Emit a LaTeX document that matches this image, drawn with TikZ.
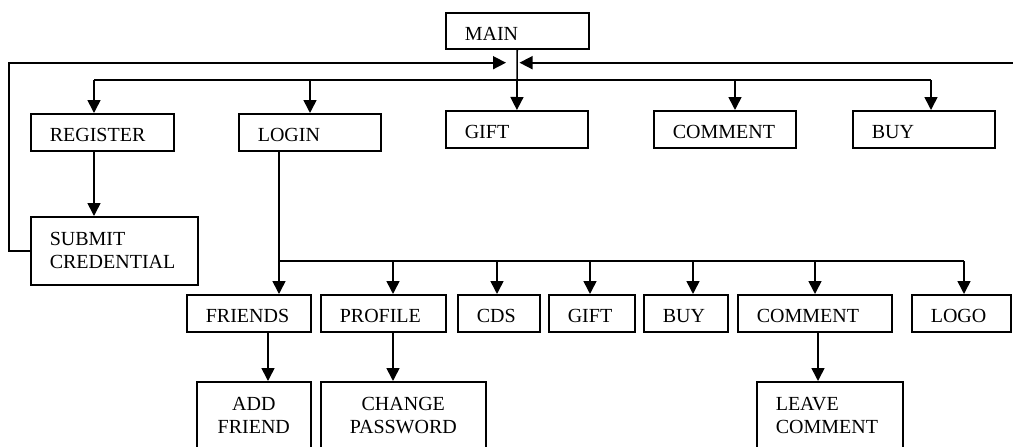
\documentclass[tikz,border=0pt]{standalone}
\usepackage{fontspec}
\setmainfont{Liberation Serif}
\usepackage{xcolor}
\definecolor{cLine}{HTML}{000000}
\usepackage{tikz}
\usetikzlibrary{positioning,arrows.meta,calc}
\tikzset{
  node-box/.style={draw=cLine,line width=1.6pt,anchor=north west,
    inner xsep=19pt,inner ysep=0pt,align=left,
    font={\fontsize{20}{23}\selectfont}},
  node-one/.style={node-box,minimum height=37pt,text height=19pt,text depth=0pt},
  node-two/.style={node-box,minimum height=68pt},
  arrow/.style={-{Triangle[length=13pt,width=13pt]},line width=1.6pt,draw=cLine},
  link/.style={line width=1.6pt,draw=cLine},
}
\begin{document}
\begin{tikzpicture}[x=1pt,y=-1pt]
  \useasboundingbox (0,0) rectangle (1013,447);
  \clip (0,0) rectangle (1013,447);
  % top level
  \node[node-one,minimum height=36pt,text width=105pt] (main) at (445,12) {MAIN};
  \node[node-one,text width=105pt] (register) at (30,113)  {REGISTER};
  \node[node-one,text width=104pt] (login)    at (238,113) {LOGIN};
  \node[node-one,text width=104pt] (gift)     at (445,110) {GIFT};
  \node[node-one,text width=104pt] (comment)  at (653,110) {COMMENT};
  \node[node-one,text width=104pt] (buy)      at (852,110) {BUY};
  \node[node-two,text width=129pt] (submit)   at (30,216)  {SUBMIT\\CREDENTIAL};
  % login menu
  \node[node-one,text width=86pt]  (friends)  at (186,294) {FRIENDS};
  \node[node-one,text width=87pt]  (profile)  at (320,294) {PROFILE};
  \node[node-one,text width=44pt]  (cds)      at (457,294) {CDS};
  \node[node-one,text width=48pt]  (ugift)    at (548,294) {GIFT};
  \node[node-one,text width=46pt]  (ubuy)     at (643,294) {BUY};
  \node[node-one,text width=116pt] (ucomment) at (737,294) {COMMENT};
  \node[node-one,text width=61pt]  (logo)     at (911,294) {LOGO};
  \node[node-two,text width=76pt,align=center]  (addfriend) at (196,381) {ADD\\FRIEND};
  \node[node-two,text width=127pt,align=center] (changepw)  at (320,381) {CHANGE\\PASSWORD};
  \node[node-two,text width=108pt] (leavecomment) at (756,381) {LEAVE\\COMMENT};

  % bus taps
  \coordinate (t1) at (94,80);
  \coordinate (t2) at (310,80);
  \coordinate (t3) at (735,80);
  \coordinate (t4) at (931,80);
  \coordinate (b1) at (279,261);
  \coordinate (b2) at (393,261);
  \coordinate (b3) at (497,261);
  \coordinate (b4) at (590,261);
  \coordinate (b5) at (693,261);
  \coordinate (b6) at (815,261);
  \coordinate (b7) at (964,261);
  \coordinate (loopL) at (9,62.7);
  \coordinate (tipL) at (506,62.7);
  \coordinate (tipR) at (519.5,62.7);
  \coordinate (edgeR) at (1013,62.7);
  \coordinate (s1) at (268,0);
  \coordinate (s2) at (818,0);

  \draw[arrow] (main) -- (gift);
  \draw[link] (t1) -- (t4);
  \draw[arrow] (t1) -- (t1 |- register.north);
  \draw[arrow] (t2) -- (t2 |- login.north);
  \draw[arrow] (t3) -- (t3 |- comment.north);
  \draw[arrow] (t4) -- (t4 |- buy.north);
  \draw[arrow] (t1 |- register.south) -- (t1 |- submit.north);
  \draw[arrow] (submit.west) -| (loopL) -- (tipL);
  \draw[arrow] (edgeR) -- (tipR);

  \draw[arrow] (b1 |- login.south) -- (b1 |- friends.north);
  \draw[link] (b1) -- (b7);
  \foreach \b/\n in {b2/profile,b3/cds,b4/ugift,b5/ubuy,b6/ucomment,b7/logo}
    \draw[arrow] (\b) -- (\b |- \n.north);
  \draw[arrow] (s1 |- friends.south) -- (s1 |- addfriend.north);
  \draw[arrow] (b2 |- profile.south) -- (b2 |- changepw.north);
  \draw[arrow] (s2 |- ucomment.south) -- (s2 |- leavecomment.north);
\end{tikzpicture}
\end{document}
